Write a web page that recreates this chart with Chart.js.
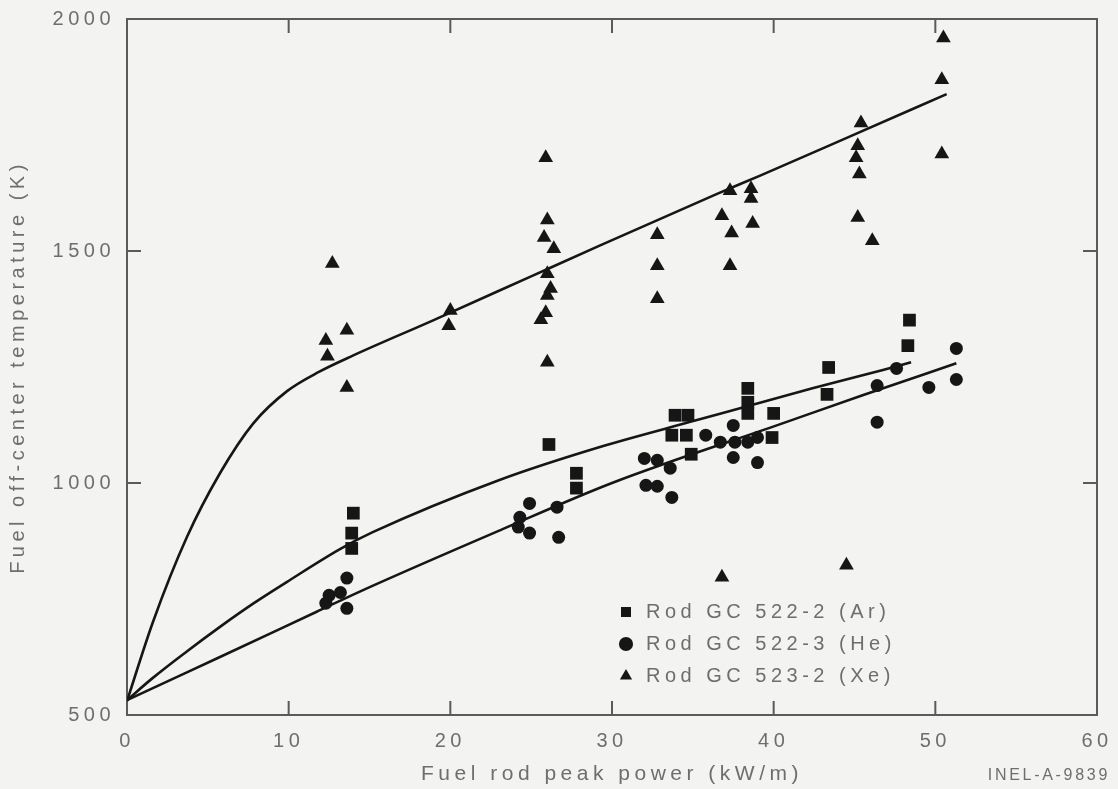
<!DOCTYPE html>
<html>
<head>
<meta charset="utf-8">
<script src="https://cdn.jsdelivr.net/npm/chart.js@4.4.1/dist/chart.umd.min.js"></script>
<style>
html,body{margin:0;padding:0;background:#f3f3f1;}
#wrap{width:1118px;height:789px;position:relative;}
</style>
</head>
<body>
<div id="wrap"><canvas id="c"></canvas></div>
<script>
// ---- tick labels / texts ----
const xTicks = [0, 10, 20, 30, 40, 50, 60];
const yTicks = [500, 1000, 1500, 2000];
const xTitle = 'Fuel rod peak power (kW/m)';
const yTitle = 'Fuel off-center temperature (K)';
const figId = 'INEL-A-9839';
const seriesNames = ['Rod GC 522-2 (Ar)', 'Rod GC 522-3 (He)', 'Rod GC 523-2 (Xe)'];

// ---- Rod GC 522-2 (Ar) : squares ----
const arPower = [14.0, 13.9, 13.9, 26.1, 27.8, 27.8, 33.9, 34.7, 33.7, 34.6, 34.9,
                 38.4, 38.4, 38.4, 40.0, 39.9, 43.4, 43.3, 48.4, 48.3];
const arTemp  = [935, 892, 859, 1083, 1021, 989, 1146, 1146, 1103, 1103, 1062,
                 1204, 1174, 1150, 1150, 1098, 1249, 1191, 1351, 1296];

// ---- Rod GC 522-3 (He) : circles ----
const hePower = [12.5, 13.2, 12.3, 13.6, 13.6,
                 24.9, 24.3, 24.2, 24.9, 26.6, 26.7,
                 32.0, 32.8, 33.6, 32.1, 32.8, 33.7,
                 35.8, 36.7, 37.5, 37.6, 37.5, 38.4, 39.0, 39.0,
                 46.4, 47.6, 49.6, 51.3, 51.3, 46.4];
const heTemp  = [758, 764, 741, 795, 730,
                 956, 926, 905, 892, 948, 883,
                 1053, 1049, 1032, 995, 993, 969,
                 1103, 1088, 1124, 1088, 1055, 1088, 1098, 1044,
                 1210, 1247, 1206, 1290, 1223, 1131];

// ---- Rod GC 523-2 (Xe) : triangles ----
const xePower = [12.3, 12.4, 12.7, 13.6, 13.6,
                 20.0, 19.9,
                 25.9, 26.0, 25.8, 26.4, 26.0, 26.2, 26.0, 25.9, 25.6, 26.0,
                 32.8, 32.8, 32.8,
                 37.3, 38.6, 38.6, 36.8, 37.4, 38.7, 37.3,
                 45.4, 45.2, 45.1, 45.3, 45.2, 46.1,
                 50.5, 50.4, 50.4,
                 36.8, 44.5];
const xeTemp  = [1307, 1273, 1473, 1329, 1206,
                 1372, 1339,
                 1701, 1567, 1529, 1505, 1451, 1419, 1404, 1367, 1352, 1260,
                 1535, 1468, 1397,
                 1630, 1634, 1613, 1576, 1539, 1559, 1468,
                 1776, 1727, 1701, 1666, 1572, 1522,
                 1959, 1869, 1709,
                 797, 823];

// ---- fitted curves ----
const xeFitPower = [0, 1.6, 3.7, 5.75, 7.8, 9.9, 11.9, 14.0, 18.9, 25.1, 29.2, 36.5, 39.2, 44.8, 50.7];
const xeFitTemp  = [530, 700, 883, 1021, 1128, 1198, 1240, 1275, 1350, 1447, 1511, 1623, 1663, 1748, 1838];
const arFitPower = [0, 1.6, 3.7, 5.75, 7.8, 9.9, 13.2, 15.2, 23.0, 29.2, 35.2, 42.4, 46.7, 48.5];
const arFitTemp  = [532, 580, 637, 690, 740, 787, 858, 894, 1006, 1077, 1135, 1204, 1243, 1260];
const heFitPower = [0, 1.6, 5.75, 11.7, 14.4, 23.2, 30.0, 40.5, 45.5, 51.3];
const heFitTemp  = [532, 558, 625, 722, 766, 900, 1000, 1128, 1189, 1258];

const TEXT = '#6e6e6e';
const AXIS = '#5a5a5a';
const INK = '#161616';
const FONT = "'Liberation Sans', Arial, Helvetica, sans-serif";
const SPACING = '4.5px';

const pts = (xs, ys) => xs.map((v, i) => ({x: v, y: ys[i]}));

const spacingPlugin = {
  id: 'spacing',
  beforeLayout(chart) { chart.ctx.letterSpacing = SPACING; },
  beforeDraw(chart) {
    const ctx = chart.ctx;
    ctx.letterSpacing = SPACING;
    ctx.save();
    ctx.fillStyle = '#f3f3f1';
    ctx.fillRect(0, 0, chart.width, chart.height);
    ctx.restore();
  }
};

const legendPlace = {
  id: 'legendPlace',
  afterLayout(chart) {
    const lg = chart.legend;
    if (!lg) return;
    const w = lg.width, h = lg.height;
    lg.left = 604; lg.top = 590;
    lg.right = lg.left + w; lg.bottom = lg.top + h;
  }
};

const frameTicks = {
  id: 'frameTicks',
  afterDraw(chart) {
    const {ctx, chartArea: {left, right, top, bottom}} = chart;
    const sx = chart.scales.x, sy = chart.scales.y;
    const L = 14;
    ctx.save();
    ctx.strokeStyle = AXIS;
    ctx.lineWidth = 2;
    ctx.beginPath();
    xTicks.forEach(v => {
      if (v <= sx.min || v >= sx.max) return;
      const px = sx.getPixelForValue(v);
      ctx.moveTo(px, bottom); ctx.lineTo(px, bottom - L);
      ctx.moveTo(px, top); ctx.lineTo(px, top + L);
    });
    yTicks.forEach(v => {
      if (v <= sy.min || v >= sy.max) return;
      const py = sy.getPixelForValue(v);
      ctx.moveTo(left, py); ctx.lineTo(left + L, py);
      ctx.moveTo(right, py); ctx.lineTo(right - L, py);
    });
    ctx.stroke();
    // figure identifier
    ctx.letterSpacing = '2.7px';
    ctx.fillStyle = TEXT;
    ctx.font = "16px " + FONT;
    ctx.textAlign = 'right';
    ctx.textBaseline = 'middle';
    ctx.fillText(figId, 1110, 776);
    ctx.restore();
  }
};

const lineDs = (xs, ys) => ({
  data: pts(xs, ys), showLine: true, pointRadius: 0, pointHoverRadius: 0,
  borderColor: INK, borderWidth: 2.6, cubicInterpolationMode: 'monotone', fill: false
});

const noPad = s => { s.paddingLeft = 0; s.paddingRight = 0; s.paddingTop = 0; s.paddingBottom = 0; };

new Chart(document.getElementById('c'), {
  type: 'scatter',
  data: {
    datasets: [
      {label: seriesNames[0], data: pts(arPower, arTemp), pointStyle: 'rect', pointRadius: 9,
       backgroundColor: INK, borderColor: INK, borderWidth: 0},
      {label: seriesNames[1], data: pts(hePower, heTemp), pointStyle: 'circle', pointRadius: 6.5,
       backgroundColor: INK, borderColor: INK, borderWidth: 0},
      {label: seriesNames[2], data: pts(xePower, xeTemp), pointStyle: 'triangle', pointRadius: 8.5,
       backgroundColor: INK, borderColor: INK, borderWidth: 0},
      Object.assign({label: 'fitXe'}, lineDs(xeFitPower, xeFitTemp)),
      Object.assign({label: 'fitAr'}, lineDs(arFitPower, arFitTemp)),
      Object.assign({label: 'fitHe'}, lineDs(heFitPower, heFitTemp))
    ]
  },
  options: {
    responsive: true,
    maintainAspectRatio: false,
    animation: false,
    layout: {padding: 0},
    plugins: {
      tooltip: {enabled: false},
      legend: {
        position: 'chartArea',
        align: 'start',
        labels: {
          usePointStyle: true, boxWidth: 20, boxHeight: 10, padding: 12,
          color: TEXT, font: {size: 20, family: FONT},
          filter: item => item.datasetIndex < 3
        }
      }
    },
    scales: {
      x: {
        type: 'linear', position: 'bottom', min: 0, max: 60,
        afterBuildTicks: s => { s.ticks = xTicks.map(v => ({value: v})); },
        grid: {display: false, drawTicks: false},
        border: {display: true, color: AXIS, width: 2},
        ticks: {color: TEXT, font: {size: 20, family: FONT}, padding: 14, maxRotation: 0,
                callback: v => String(v)},
        title: {display: true, text: xTitle, color: TEXT, font: {size: 21, family: FONT}, padding: {top: 0, bottom: 2}},
        afterFit: s => { s.height = 74; noPad(s); }
      },
      x2: {
        type: 'linear', position: 'top', min: 0, max: 60,
        grid: {display: false, drawTicks: false}, ticks: {display: false},
        border: {display: true, color: AXIS, width: 2},
        afterFit: s => { s.height = 19; noPad(s); }
      },
      y: {
        type: 'linear', position: 'left', min: 500, max: 2000,
        afterBuildTicks: s => { s.ticks = yTicks.map(v => ({value: v})); },
        grid: {display: false, drawTicks: false},
        border: {display: true, color: AXIS, width: 2},
        ticks: {color: TEXT, font: {size: 20, family: FONT}, padding: 12,
                callback: v => String(v)},
        title: {display: true, text: yTitle, color: TEXT, font: {size: 20, family: FONT}, padding: {top: 6, bottom: 0}},
        afterFit: s => { s.width = 127; noPad(s); }
      },
      y2: {
        type: 'linear', position: 'right', min: 500, max: 2000,
        grid: {display: false, drawTicks: false}, ticks: {display: false},
        border: {display: true, color: AXIS, width: 2},
        afterFit: s => { s.width = 21; noPad(s); }
      }
    }
  },
  plugins: [spacingPlugin, legendPlace, frameTicks]
});
</script>
</body>
</html>
